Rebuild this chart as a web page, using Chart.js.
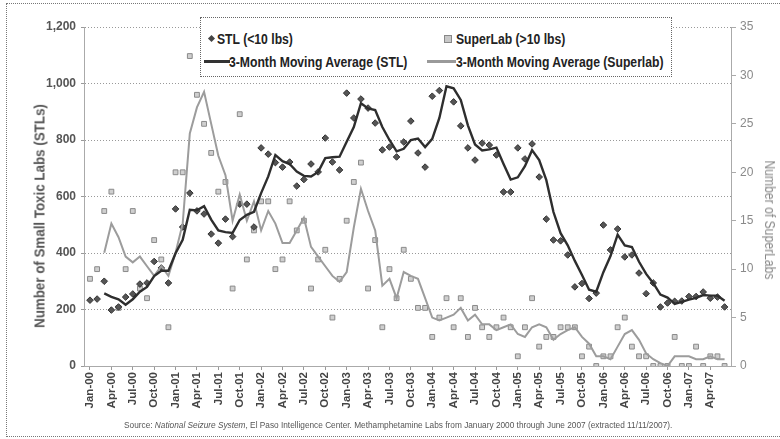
<!DOCTYPE html>
<html><head><meta charset="utf-8">
<script src="https://cdn.jsdelivr.net/npm/chart.js@4.4.1/dist/chart.umd.min.js"></script>
<style>
html,body{margin:0;padding:0;background:#fff;}
#wrap{position:relative;width:780px;height:439px;overflow:hidden;background:#fff;}
#c{position:absolute;left:0;top:0;}
.frame{position:absolute;left:6px;top:3px;width:776px;height:434px;border:1px dotted #777;box-sizing:border-box;pointer-events:none;}
.ff{font-family:"Liberation Sans",Arial,sans-serif;}
#legend{position:absolute;left:200px;top:17px;width:472px;height:60px;border:1px dotted #666;background:#fff;box-sizing:border-box;}
.li{position:absolute;font-weight:bold;font-size:14px;color:#222;white-space:nowrap;line-height:14px;transform:scaleX(0.87);transform-origin:0 50%;}
.dia{position:absolute;width:5px;height:5px;background:#444;transform:rotate(45deg);}
.sq{position:absolute;width:6px;height:6px;background:#c8c8c8;border:1px solid #888;}
.ln{position:absolute;height:3px;}
#ytitle{position:absolute;left:39px;top:216px;transform:translate(-50%,-50%) rotate(-90deg) scaleX(0.89);font-weight:bold;font-size:15px;color:#555;white-space:nowrap;}
#y2title{position:absolute;left:770px;top:220px;transform:translate(-50%,-50%) rotate(90deg) scaleX(0.87);font-size:14px;color:#888;white-space:nowrap;}
#source{position:absolute;left:124px;top:420px;font-size:9px;color:#555;white-space:nowrap;transform:scaleX(0.92);transform-origin:0 50%;}
</style></head>
<body>
<div id="wrap">
<canvas id="c" width="780" height="439"></canvas>
<div class="frame"></div>
<div id="legend" class="ff">
  <div class="dia" style="left:8px;top:18px;"></div>
  <div class="li" style="left:16px;top:14px;">STL (&lt;10 lbs)</div>
  <div class="sq" style="left:243px;top:17px;"></div>
  <div class="li" style="left:255px;top:14px;">SuperLab (&gt;10 lbs)</div>
  <div class="ln" style="left:3px;top:42px;width:26px;background:#333;"></div>
  <div class="li" style="left:28px;top:37px;">3-Month Moving Average (STL)</div>
  <div class="ln" style="left:226px;top:42px;width:29px;background:#9a9a9a;"></div>
  <div class="li" style="left:255px;top:37px;">3-Month Moving Average (Superlab)</div>
</div>
<div id="ytitle" class="ff">Number of Small Toxic Labs (STLs)</div>
<div id="y2title" class="ff">Number of SuperLabs</div>
<div id="source" class="ff">Source: <i>National Seizure System</i>, El Paso Intelligence Center. Methamphetamine Labs from January 2000 through June 2007 (extracted 11/11/2007).</div>
</div>
<script>
const months = [
 'Jan-00','Feb-00','Mar-00','Apr-00','May-00','Jun-00','Jul-00','Aug-00','Sep-00','Oct-00','Nov-00','Dec-00',
 'Jan-01','Feb-01','Mar-01','Apr-01','May-01','Jun-01','Jul-01','Aug-01','Sep-01','Oct-01','Nov-01','Dec-01',
 'Jan-02','Feb-02','Mar-02','Apr-02','May-02','Jun-02','Jul-02','Aug-02','Sep-02','Oct-02','Nov-02','Dec-02',
 'Jan-03','Feb-03','Mar-03','Apr-03','May-03','Jun-03','Jul-03','Aug-03','Sep-03','Oct-03','Nov-03','Dec-03',
 'Jan-04','Feb-04','Mar-04','Apr-04','May-04','Jun-04','Jul-04','Aug-04','Sep-04','Oct-04','Nov-04','Dec-04',
 'Jan-05','Feb-05','Mar-05','Apr-05','May-05','Jun-05','Jul-05','Aug-05','Sep-05','Oct-05','Nov-05','Dec-05',
 'Jan-06','Feb-06','Mar-06','Apr-06','May-06','Jun-06','Jul-06','Aug-06','Sep-06','Oct-06','Nov-06','Dec-06',
 'Jan-07','Feb-07','Mar-07','Apr-07','May-07','Jun-07'
];
// months that carry a tick label (every third month)
const tickMonths = ['Jan-00','Apr-00','Jul-00','Oct-00','Jan-01','Apr-01','Jul-01','Oct-01','Jan-02','Apr-02','Jul-02','Oct-02',
 'Jan-03','Apr-03','Jul-03','Oct-03','Jan-04','Apr-04','Jul-04','Oct-04','Jan-05','Apr-05','Jul-05','Oct-05',
 'Jan-06','Apr-06','Jul-06','Oct-06','Jan-07','Apr-07'];

const stl = [
 233,237,300,198,209,244,255,290,294,370,347,294,
 556,492,612,549,538,467,435,520,458,573,573,492,
 772,750,720,704,722,637,660,715,687,807,722,694,
 966,878,945,913,860,765,775,740,793,867,754,704,
 955,975,1040,935,850,772,729,789,782,747,616,616,
 772,733,786,669,520,446,443,393,280,292,239,258,
 499,411,485,386,393,329,256,294,209,223,229,230,
 246,246,262,240,244,209
];
const stlAvg = [
 null,null,257,245,236,217,236,263,280,318,337,337,
 399,447,553,551,566,518,480,474,471,517,535,546,
 612,671,747,725,715,688,673,671,687,736,739,741,
 794,846,930,912,906,846,800,760,769,800,805,775,
 804,878,990,983,942,852,784,763,767,773,715,660,
 668,707,764,729,658,545,470,427,372,322,270,263,
 332,389,465,427,421,369,326,293,253,242,220,227,
 235,241,251,249,249,231
];
const superlab = [
 9,10,16,18,6,10,16,8,7,13,11,4,
 20,20,32,28,25,22,18,19,8,26,11,14,
 17,17,10,11,17,14,15,8,11,12,5,9,
 15,19,21,8,13,4,10,7,12,9,6,6,
 3,5,7,4,7,3,6,4,3,4,5,4,
 1,4,7,2,3,3,4,4,4,1,2,0,
 1,1,4,5,2,1,1,0,0,0,3,0,
 0,2,0,1,1,0
];
const superlabAvg = [
 null,null,11.7,14.7,13.3,11.3,10.7,11.3,10.3,9.3,10.3,9.3,
 11.7,14.7,24.0,26.7,28.3,25.0,21.7,19.7,15.0,17.7,15.0,17.0,
 14.0,16.0,14.7,12.7,12.7,14.0,15.3,12.3,11.3,10.3,9.3,8.7,
 9.7,14.3,18.3,16.0,14.0,8.3,9.0,7.0,9.7,9.3,9.0,7.0,
 5.0,4.7,5.0,5.3,6.0,4.7,5.3,4.3,4.3,3.7,4.0,4.3,
 3.3,3.0,4.0,4.3,4.0,2.7,3.3,3.7,4.0,3.0,2.3,1.0,
 1.0,0.7,2.0,3.3,3.7,2.7,1.3,0.7,0.3,0.0,1.0,1.0,
 1.0,0.7,0.7,1.0,0.7,0.7
];

const FF = '"Liberation Sans",Arial,sans-serif';
const pts = arr => arr.map((v, i) => ({x: i, y: v}));
const tickIdx = tickMonths.map(m => months.indexOf(m));

new Chart(document.getElementById('c'), {
  data: {
    datasets: [
      {type:'line', label:'3-Month Moving Average (STL)', data: pts(stlAvg), yAxisID:'y',
       borderColor:'#2e2e2e', borderWidth:2.4, pointRadius:0, tension:0, order:1},
      {type:'line', label:'3-Month Moving Average (Superlab)', data: pts(superlabAvg), yAxisID:'y2',
       borderColor:'#9c9c9c', borderWidth:2, pointRadius:0, tension:0, order:2},
      {type:'scatter', label:'STL (<10 lbs)', data: pts(stl), yAxisID:'y',
       pointStyle:'rectRot', pointRadius:3.3, backgroundColor:'#555', borderColor:'#333', borderWidth:1, order:3},
      {type:'scatter', label:'SuperLab (>10 lbs)', data: pts(superlab), yAxisID:'y2',
       pointStyle:'rect', pointRadius:3.4, backgroundColor:'#cfcfcf', borderColor:'#8a8a8a', borderWidth:1, order:4}
    ]
  },
  options: {
    responsive:false, animation:false, devicePixelRatio:1,
    layout:{padding:{top:27,left:0,right:0,bottom:0}},
    plugins:{legend:{display:false}, tooltip:{enabled:false}},
    scales:{
      x:{type:'linear', min:-0.84, max:89.9,
         afterBuildTicks: s => { s.ticks = tickIdx.map(v => ({value:v})); },
         afterFit: s => { s.height = 73; },
         ticks:{autoSkip:false, maxRotation:90, minRotation:90, padding:2,
                callback: v => months[v],
                font:{family:FF, size:11.5, weight:'bold'}, color:'#444'},
         grid:{drawOnChartArea:false, drawTicks:true, tickLength:4, color:'#999'},
         border:{color:'#aaa'}},
      y:{position:'left', min:0, max:1200,
         afterFit: s => { s.width = 84; },
         ticks:{stepSize:200, padding:5, callback: v => v.toLocaleString('en-US'),
                font:{family:FF, size:12, weight:'bold'}, color:'#555'},
         grid:{color:'#999', tickLength:3},
         border:{color:'#aaa', dash:[1,2]}},
      y2:{position:'right', min:0, max:35,
         afterFit: s => { s.width = 49; },
         ticks:{stepSize:5, padding:4, font:{family:FF, size:12}, color:'#8a8a8a'},
         grid:{drawOnChartArea:false, tickLength:5, color:'#aaa'},
         border:{color:'#aaa'}}
    }
  }
});
</script>
</body></html>
